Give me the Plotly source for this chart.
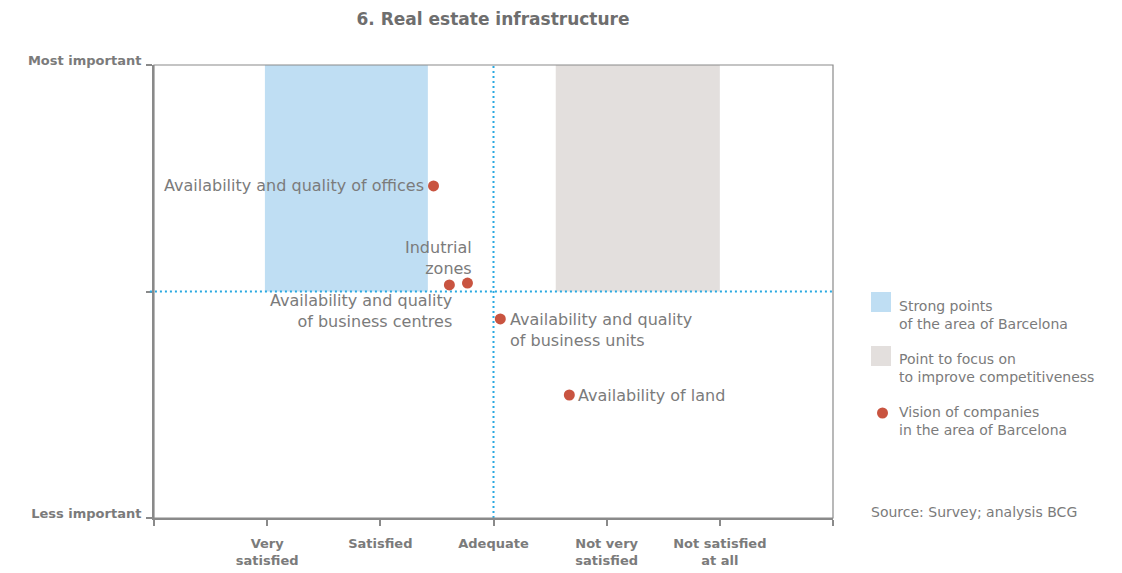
import plotly.graph_objects as go

# ---- data ----
x_tick_vals = [0, 1, 2, 3, 4, 5, 6]
x_tick_text = ["", "Very<br>satisfied", "Satisfied", "Adequate", "Not very<br>satisfied", "Not satisfied<br>at all", ""]
y_tick_vals = [0, 1, 2]
y_tick_text = ["Less important", "", "Most important"]

point_names = ["Availability and quality of offices", "Availability and quality<br>of business centres",
               "Indutrial<br>zones", "Availability and quality<br>of business units", "Availability of land"]
point_x = [2.47, 2.61, 2.77, 3.06, 3.67]
point_y = [1.466, 1.029, 1.037, 0.879, 0.543]

strong_zone = [0.98, 2.42, 1.0, 2.0]   # x0, x1, y0, y1
focus_zone = [3.55, 5.0, 1.0, 2.0]
ref_x = 3.0
ref_y = 1.0

legend_labels = ["Strong points<br>of the area of Barcelona",
                 "Point to focus on<br>to improve competitiveness",
                 "Vision of companies<br>in the area of Barcelona"]
source_text = "Source: Survey; analysis BCG"
title_text = "6. Real estate infrastructure"

BLUE = "#bfdef3"
GREY = "#e3dfdd"
RED = "#c95440"
DOT = "#29a9e1"
TXT = "#7b7b7b"
FONT = "DejaVu Sans"

# page offset (body margin) compensation
OFF = 8
W, H = 679.0, 453.0
L, T = 154.0, 65.0

fig = go.Figure()

fig.add_trace(go.Scatter(x=point_x, y=point_y, mode="markers",
                         marker=dict(color=RED, size=11), hoverinfo="skip", showlegend=False))

shapes = []
shapes.append(dict(type="rect", xref="x", yref="y", x0=strong_zone[0], x1=strong_zone[1],
                   y0=strong_zone[2], y1=strong_zone[3], fillcolor=BLUE, line_width=0, layer="below"))
shapes.append(dict(type="rect", xref="x", yref="y", x0=focus_zone[0], x1=focus_zone[1],
                   y0=focus_zone[2], y1=focus_zone[3], fillcolor=GREY, line_width=0, layer="below"))
shapes.append(dict(type="line", xref="x", yref="y", x0=ref_x, x1=ref_x, y0=0, y1=2,
                   line=dict(color=DOT, width=2, dash="2px,3px")))
shapes.append(dict(type="line", xref="paper", yref="y", x0=-0.006, x1=1, y0=ref_y, y1=ref_y,
                   line=dict(color=DOT, width=2, dash="2px,3px")))
# frame
shapes.append(dict(type="rect", xref="paper", yref="paper", x0=0, x1=1, y0=0, y1=1,
                   line=dict(color="#8a8a8a", width=1.2), fillcolor="rgba(0,0,0,0)"))

annotations = []
lab_font = dict(family=FONT, size=16, color=TXT)
# offices
annotations.append(dict(x=point_x[0], y=point_y[0], xref="x", yref="y", text=point_names[0],
                        showarrow=False, xanchor="right", yanchor="middle", xshift=-8, font=lab_font, align="right"))
# business centres
annotations.append(dict(x=point_x[1], y=point_y[1], xref="x", yref="y", text=point_names[1],
                        showarrow=False, xanchor="right", yanchor="top", xshift=5, yshift=-4, font=lab_font, align="right"))
# industrial zones
annotations.append(dict(x=point_x[2], y=point_y[2], xref="x", yref="y", text=point_names[2],
                        showarrow=False, xanchor="right", yanchor="bottom", xshift=7, yshift=3, font=lab_font, align="right"))
# business units
annotations.append(dict(x=point_x[3], y=point_y[3], xref="x", yref="y", text=point_names[3],
                        showarrow=False, xanchor="left", yanchor="top", xshift=8, yshift=11, font=lab_font, align="left"))
# land
annotations.append(dict(x=point_x[4], y=point_y[4], xref="x", yref="y", text=point_names[4],
                        showarrow=False, xanchor="left", yanchor="middle", xshift=7, font=lab_font, align="left"))

# legend (custom), positions in page pixels
def px(xp):
    return (xp - L) / W
def py(yp):
    return (T + H - yp) / H

leg_font = dict(family=FONT, size=14, color=TXT)
shapes.append(dict(type="rect", xref="paper", yref="paper", x0=px(871), x1=px(891), y0=py(312), y1=py(292),
                   fillcolor=BLUE, line_width=0))
shapes.append(dict(type="rect", xref="paper", yref="paper", x0=px(871), x1=px(891), y0=py(366), y1=py(346),
                   fillcolor=GREY, line_width=0))
shapes.append(dict(type="circle", xref="paper", yref="paper", x0=px(877), x1=px(888), y0=py(418.5), y1=py(407.5),
                   fillcolor=RED, line_width=0))
for yy, txt in zip([315, 368, 421], legend_labels):
    annotations.append(dict(x=px(897), y=py(yy), xref="paper", yref="paper", text=txt, showarrow=False,
                            xanchor="left", yanchor="middle", align="left", font=leg_font))
annotations.append(dict(x=px(869), y=py(512), xref="paper", yref="paper", text=source_text, showarrow=False,
                        xanchor="left", yanchor="middle", align="left", font=leg_font))

fig.update_layout(
    width=1122, height=573,
    margin=dict(l=L - OFF, r=1122 - (L + W - OFF), t=T - OFF, b=573 - (T + H - OFF)),
    paper_bgcolor="white", plot_bgcolor="white",
    title=dict(text="<b>" + title_text + "</b>", x=(493 - OFF) / 1122, xref="container",
               y=1 - (19 - OFF) / 573, yref="container",
               xanchor="center", yanchor="middle", font=dict(family=FONT, size=17, color="#6e6e6e")),
    shapes=shapes, annotations=annotations,
    xaxis=dict(range=[0, 6], tickvals=x_tick_vals, ticktext=x_tick_text, showgrid=False, zeroline=False,
               showline=True, linecolor="#8a8a8a", linewidth=2, ticks="outside", ticklen=6, tickwidth=1.5,
               ticklabelstandoff=6,
               tickcolor="#8a8a8a", tickfont=dict(family=FONT, size=13, color=TXT, weight="bold"), fixedrange=True),
    yaxis=dict(range=[0, 2], tickvals=y_tick_vals, ticktext=y_tick_text, showgrid=False, zeroline=False,
               showline=True, linecolor="#8a8a8a", linewidth=2, ticks="outside", ticklen=6, tickwidth=1.5,
               ticklabelstandoff=2, ticklabelshift=-5,
               tickcolor="#8a8a8a", tickfont=dict(family=FONT, size=13, color=TXT, weight="bold"), fixedrange=True),
    showlegend=False,
)

fig.write_html("out.html")
